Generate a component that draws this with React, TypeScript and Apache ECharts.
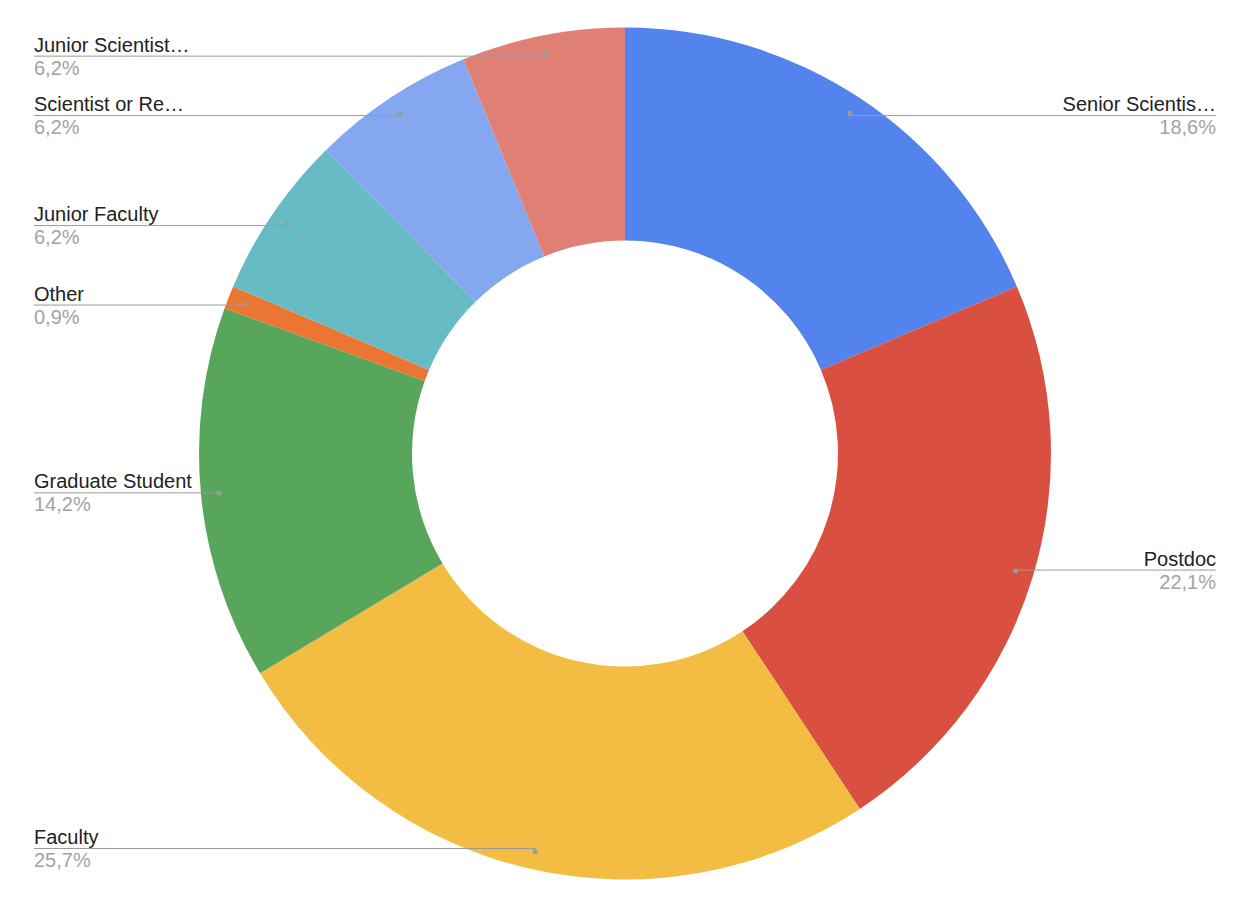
import React, { useEffect, useRef } from 'react';
import * as echarts from 'echarts';

const categories = [
  'Senior Scientis…',
  'Postdoc',
  'Faculty',
  'Graduate Student',
  'Other',
  'Junior Faculty',
  'Scientist or Re…',
  'Junior Scientist…',
];
const counts = [21, 25, 29, 16, 1, 7, 7, 7];
const colors = ['#5383EC', '#D95040', '#F2BD42', '#58A65C', '#EB7632', '#67BBC4', '#84A7F0', '#E08075'];

const CX = 625;
const CY = 453.5;
const R_OUT = 426;
const R_IN = 213;
const R_DOT = 405;
const LEFT_X = 34;
const RIGHT_X = 1216;
const FONT = "'Liberation Sans', Arial, Helvetica, sans-serif";

export default function App() {
  const ref = useRef<HTMLDivElement>(null);

  useEffect(() => {
    if (!ref.current) return;
    const chart = echarts.init(ref.current, undefined, { renderer: 'svg' });
    const data = categories.map((name, i) => ({ name, value: counts[i], itemStyle: { color: colors[i] } }));
    const ghost = categories.map((name, i) => ({ name, value: counts[i] }));
    chart.setOption({
      animation: false,
      backgroundColor: '#ffffff',
      series: [
        {
          type: 'pie',
          center: [CX, CY],
          radius: [R_IN, R_OUT],
          startAngle: 90,
          clockwise: true,
          silent: true,
          z: 2,
          data,
          label: { show: false },
          labelLine: { show: false },
        },
        {
          type: 'pie',
          center: [CX, CY],
          radius: [R_IN, R_OUT],
          startAngle: 90,
          clockwise: true,
          avoidLabelOverlap: false,
          silent: true,
          z: 6,
          data: ghost,
          itemStyle: { color: 'rgba(0,0,0,0)' },
          label: {
            show: true,
            position: 'outside',
            formatter: (p: any) => `{n|${p.name}}\n{p|${p.percent.toFixed(1).replace('.', ',')}%}`,
            rich: {
              n: { fontFamily: FONT, fontSize: 20, color: '#222222', lineHeight: 23 },
              p: { fontFamily: FONT, fontSize: 20, color: '#a3a3a3', lineHeight: 23 },
            },
          },
          labelLine: {
            show: true,
            length: 5,
            length2: 5,
            lineStyle: { color: '#9a9a9a', width: 1 },
          },
          labelLayout: (params: any) => {
            const pts = params.labelLinePoints;
            if (!pts) return {};
            const [px, py] = pts[0];
            const ang = Math.atan2(py - CY, px - CX);
            const dx = CX + R_DOT * Math.cos(ang);
            const dy = CY + R_DOT * Math.sin(ang);
            const isLeft = dx < CX;
            const ex = isLeft ? LEFT_X : RIGHT_X;
            return {
              x: ex,
              y: dy,
              align: isLeft ? 'left' : 'right',
              verticalAlign: 'middle',
              labelLinePoints: [
                [dx, dy],
                [dx, dy],
                [ex, dy],
              ],
            };
          },
        },
        {
          type: 'pie',
          center: [CX, CY],
          radius: [R_DOT - 21, R_DOT + 21],
          startAngle: 90,
          clockwise: true,
          silent: true,
          z: 8,
          data: ghost,
          itemStyle: { color: 'rgba(0,0,0,0)' },
          label: {
            show: true,
            position: 'inside',
            formatter: '{d|}',
            rich: {
              d: { width: 5, height: 5, borderRadius: 2.5, backgroundColor: '#9a9a9a' },
            },
          },
          labelLine: { show: false },
        },
      ],
    });
    return () => chart.dispose();
  }, []);

  return (
    <div
      ref={ref}
      style={{ position: 'fixed', left: 0, top: 0, width: 1254, height: 914, background: '#fff' }}
    />
  );
}
